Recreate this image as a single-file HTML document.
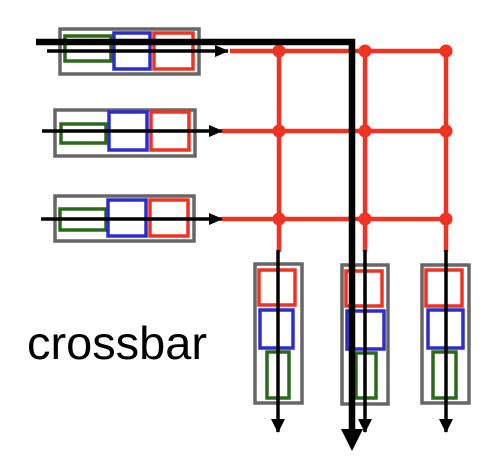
<!DOCTYPE html>
<html><head><style>body{margin:0;background:#fff}</style></head><body>
<svg width="486" height="454" viewBox="0 0 486 454" xmlns="http://www.w3.org/2000/svg">
<defs>
<marker id="a" markerWidth="14" markerHeight="12" refX="13" refY="6" orient="auto" markerUnits="userSpaceOnUse"><path d="M0,0 L14,6 L0,12 z" fill="#000"/></marker>
<marker id="d" markerWidth="14" markerHeight="14" refX="7" refY="13" orient="0" markerUnits="userSpaceOnUse"><path d="M0,0 L14,0 L7,14 z" fill="#000"/></marker>
</defs>
<g fill="none" stroke-width="3.5">
<rect x="60" y="29" width="139" height="45" stroke="#666"/>
<rect x="65" y="36" width="46" height="25" stroke="#2a6a1a"/>
<rect x="114" y="33" width="36" height="36" stroke="#2d2dcc"/>
<rect x="154" y="33" width="39" height="36" stroke="#ee3322"/>
<rect x="55" y="110" width="140" height="46" stroke="#666"/>
<rect x="61" y="124" width="45" height="19" stroke="#2a6a1a"/>
<rect x="109" y="112" width="38" height="38" stroke="#2d2dcc"/>
<rect x="151" y="112" width="38" height="38" stroke="#ee3322"/>
<rect x="55" y="196" width="139" height="45" stroke="#666"/>
<rect x="60" y="209" width="46" height="21" stroke="#2a6a1a"/>
<rect x="108" y="200" width="38" height="36" stroke="#2d2dcc"/>
<rect x="150" y="200" width="38" height="36" stroke="#ee3322"/>
<rect x="255" y="264" width="47" height="139" stroke="#666"/>
<rect x="259" y="270" width="36" height="35" stroke="#ee3322"/>
<rect x="260" y="310" width="33" height="38" stroke="#2d2dcc"/>
<rect x="267" y="352" width="22" height="46" stroke="#2a6a1a"/>
<rect x="342" y="265" width="46" height="139" stroke="#666"/>
<rect x="346" y="271" width="36" height="35" stroke="#ee3322"/>
<rect x="347" y="311" width="37" height="38" stroke="#2d2dcc"/>
<rect x="356" y="353" width="20" height="45" stroke="#2a6a1a"/>
<rect x="422" y="265" width="47" height="138" stroke="#666"/>
<rect x="426" y="270" width="36" height="36" stroke="#ee3322"/>
<rect x="428" y="310" width="35" height="38" stroke="#2d2dcc"/>
<rect x="433" y="352" width="23" height="46" stroke="#2a6a1a"/>
</g>
<g stroke="#ee3322" stroke-width="4.5">
<line x1="230" y1="51" x2="448" y2="51"/>
<line x1="222" y1="131" x2="448" y2="131"/>
<line x1="222" y1="219" x2="448" y2="219"/>
<line x1="279" y1="51" x2="279" y2="252"/>
<line x1="365" y1="51" x2="365" y2="252"/>
<line x1="446" y1="51" x2="446" y2="252"/>
</g>
<g fill="#ee3322">
<circle cx="279" cy="51" r="6.5"/><circle cx="365" cy="51" r="6.5"/><circle cx="446" cy="51" r="6.5"/>
<circle cx="279" cy="131" r="6.5"/><circle cx="365" cy="131" r="6.5"/><circle cx="446" cy="131" r="6.5"/>
<circle cx="279" cy="219" r="6.5"/><circle cx="365" cy="219" r="6.5"/><circle cx="446" cy="219" r="6.5"/>
</g>
<g stroke="#000" stroke-width="3.5">
<line x1="47" y1="51" x2="228" y2="51" marker-end="url(#a)"/>
<line x1="42" y1="131" x2="222" y2="131" marker-end="url(#a)"/>
<line x1="41" y1="219" x2="222" y2="219" marker-end="url(#a)"/>
<line x1="278" y1="250" x2="278" y2="432" marker-end="url(#d)"/>
<line x1="365" y1="250" x2="365" y2="432" marker-end="url(#d)"/>
<line x1="446" y1="250" x2="446" y2="432" marker-end="url(#d)"/>
</g>
<polyline points="36,42 352,42 352,432" fill="none" stroke="#000" stroke-width="6.5"/>
<path d="M341,429 L363,429 L352,451 z" fill="#000"/>
<text x="27" y="359" font-family="Liberation Sans, Arial, sans-serif" font-size="46" textLength="180" lengthAdjust="spacingAndGlyphs" fill="#000">crossbar</text>
</svg>
</body></html>
